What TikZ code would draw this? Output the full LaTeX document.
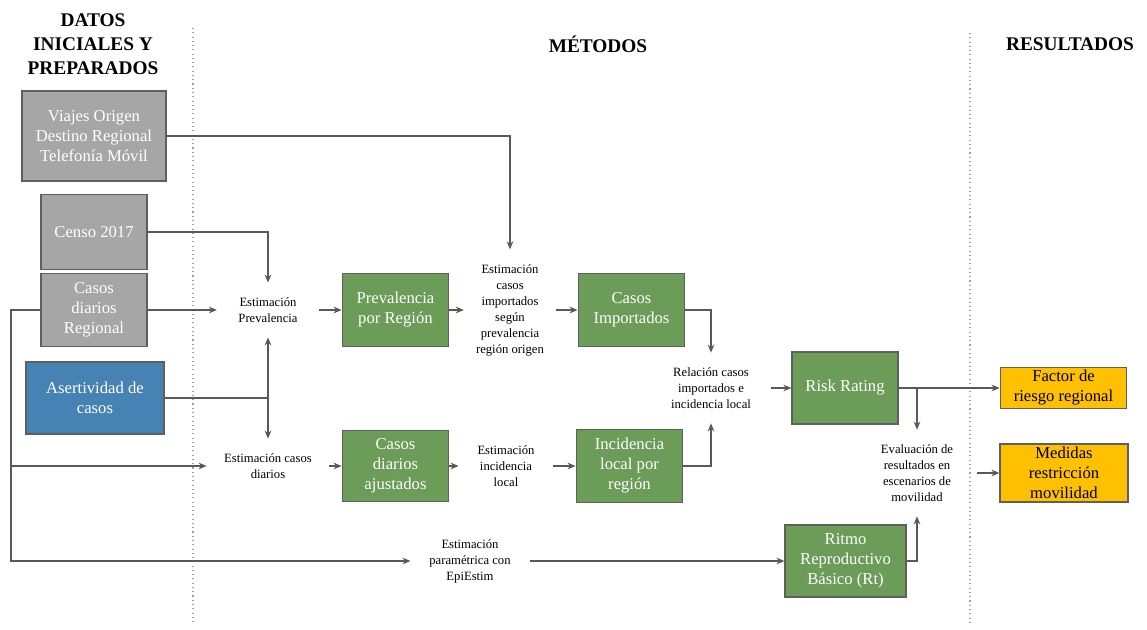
\documentclass[tikz,border=0pt]{standalone}
\usepackage{fontspec}
\setmainfont{Liberation Serif}
\usetikzlibrary{arrows.meta}
\definecolor{datgray}{HTML}{A6A6A6}
\definecolor{datblue}{HTML}{4682B4}
\definecolor{metgreen}{HTML}{6B9C58}
\definecolor{resyellow}{HTML}{FFC000}
\definecolor{linegray}{HTML}{595959}
\definecolor{edgegray}{HTML}{5F5F5F}
\definecolor{sepgray}{HTML}{A0A0A0}

\begin{document}
\begin{tikzpicture}[
    x=0.75pt, y=-0.75pt,
    basebox/.style={draw=edgegray, line width=0.9pt, align=center, inner sep=2pt,
        font=\fontsize{12.5}{15}\selectfont},
    boxgray/.style={basebox, fill=datgray, text=white},
    boxblue/.style={basebox, fill=datblue, text=white},
    boxgreen/.style={basebox, fill=metgreen, text=white},
    boxyellow/.style={basebox, fill=resyellow, text=black},
    steptext/.style={align=center, inner xsep=12pt, inner ysep=11pt,
        font=\fontsize{9.5}{12}\selectfont},
    heading/.style={align=center, font=\fontsize{14.5}{18}\selectfont\bfseries},
    link/.style={draw=linegray, line width=0.9pt},
    flow/.style={link, -{Stealth[length=6pt, width=5pt]}},
    sepline/.style={sepgray, line width=0.8pt, dash pattern=on 0.8pt off 2.4pt}
]

\useasboundingbox (0,0) rectangle (1147,629);

% 1. Column headings and separators
\node[heading] (hDatos) at (93,44) {DATOS\\INICIALES Y\\PREPARADOS};
\node[heading] (hMetodos) at (598,44) {MÉTODOS};
\node[heading] (hResult) at (1070,44) {RESULTADOS};

\draw[sepline] (193,28) -- (193,625);
\draw[sepline] (970,33) -- (970,625);

% 2. Input data
\node[boxgray, minimum width=108pt, minimum height=67.5pt] (viajes) at (94,136)
    {Viajes Origen\\Destino Regional\\Telefonía Móvil};
\node[boxgray, minimum width=79.5pt, minimum height=56pt] (censo) at (94,232) {Censo 2017};
\node[boxgray, minimum width=79.5pt, minimum height=55pt] (casosReg) at (94,310)
    {Casos\\diarios\\Regional};
\node[boxblue, minimum width=103.5pt, minimum height=54pt] (asert) at (95,398)
    {Asertividad de\\casos};

% 3. Methods: steps (plain text) and products (green boxes)
\node[steptext, inner xsep=16pt] (estPrev) at (268,310) {Estimación\\Prevalencia};
\node[steptext, inner xsep=13pt] (estDiarios) at (268,466) {Estimación casos\\diarios};
\node[boxgreen, minimum width=80pt, minimum height=55pt] (prevReg) at (395.5,310)
    {Prevalencia\\por Región};
\node[boxgreen, minimum width=80pt, minimum height=53pt] (diariosAj) at (395.5,466)
    {Casos\\diarios\\ajustados};
\node[steptext, inner xsep=9pt] (estImport) at (510,310)
    {Estimación\\casos\\importados\\según\\prevalencia\\región origen};
\node[steptext, inner xsep=14pt] (estIncid) at (506,466) {Estimación\\incidencia\\local};
\node[boxgreen, minimum width=80pt, minimum height=55pt] (casosImp) at (631.5,310)
    {Casos\\Importados};
\node[boxgreen, minimum width=80pt, minimum height=55pt] (incid) at (629.5,466)
    {Incidencia\\local por\\región};
\node[steptext, inner xsep=15pt] (relacion) at (711,388)
    {Relación casos\\importados e\\incidencia local};
\node[boxgreen, minimum width=79.5pt, minimum height=54pt] (risk) at (845,388) {Risk Rating};
\node[steptext, inner xsep=14pt] (epiestim) at (470,561)
    {Estimación\\paramétrica con\\EpiEstim};
\node[boxgreen, minimum width=90.75pt, minimum height=54pt] (ritmo) at (845.5,561)
    {Ritmo\\Reproductivo\\Básico (Rt)};
\node[steptext, inner xsep=18pt] (evaluacion) at (917,473)
    {Evaluación de\\resultados en\\escenarios de\\movilidad};

% 4. Results
\node[boxyellow, minimum width=95pt, minimum height=30pt] (factor) at (1063.5,388)
    {Factor de\\riesgo regional};
\node[boxyellow, minimum width=96pt, minimum height=43.5pt] (medidas) at (1064,473)
    {Medidas\\restricción\\movilidad};

% 5. Connectors
\coordinate (bus) at (11,561);
\coordinate (jAsert) at (asert.east -| estPrev.south);
\coordinate (jRisk) at (risk.east -| evaluacion.north);

\draw[flow] (viajes.east) -| (estImport.north);
\draw[flow] (censo.east) -| (estPrev.north);
\draw[flow] (casosReg.east) -- (estPrev.west);
\draw[flow] (casosReg.west) -| (bus) -- (epiestim.west);
\draw[flow] (bus |- estDiarios.west) -- (estDiarios.west);
\draw[link] (asert.east) -- (jAsert);
\draw[flow] (jAsert) -- (estPrev.south);
\draw[flow] (jAsert) -- (estDiarios.north);

\draw[flow] (estPrev.east) -- (prevReg.west);
\draw[flow] (prevReg.east) -- (estImport.west);
\draw[flow] (estImport.east) -- (casosImp.west);
\draw[flow] (casosImp.east) -| (relacion.north);
\draw[flow] (estDiarios.east) -- (diariosAj.west);
\draw[flow] (diariosAj.east) -- (estIncid.west);
\draw[flow] (estIncid.east) -- (incid.west);
\draw[flow] (incid.east) -| (relacion.south);
\draw[flow] (relacion.east) -- (risk.west);

\draw[flow] (epiestim.east) -- (ritmo.west);
\draw[flow] (ritmo.east) -| (evaluacion.south);
\draw[flow] (risk.east) -- (factor.west);
\draw[flow] (jRisk) -- (evaluacion.north);
\draw[flow] (evaluacion.east) -- (medidas.west);

\end{tikzpicture}
\end{document}
